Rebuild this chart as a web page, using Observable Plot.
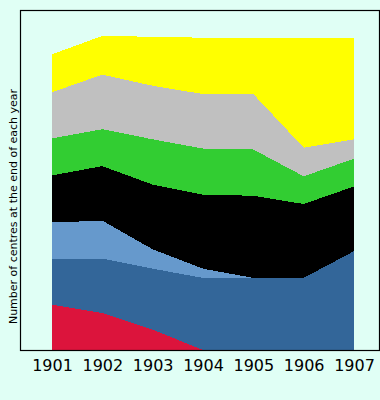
<!DOCTYPE html>
<html>
<head>
<meta charset="utf-8">
<script src="https://cdn.jsdelivr.net/npm/d3@7"></script>
<script src="https://cdn.jsdelivr.net/npm/@observablehq/plot@0.6"></script>
<style>
  html, body { margin: 0; padding: 0; background: #e0fff5; }
</style>
</head>
<body>
<div id="chart"></div>
<script>
const years = [1901, 1902, 1903, 1904, 1905, 1906, 1907];
const seriesNames = ["Series 1", "Series 2", "Series 3", "Series 4", "Series 5", "Series 6", "Series 7"];
const seriesColors = ["#dc143c", "#336699", "#6699cc", "#000000", "#32cd32", "#c0c0c0", "#ffff00"];
const series1 = [4.9, 4.0, 2.2, 0, 0, 0, 0];
const series2 = [4.9, 5.9, 6.6, 7.8, 7.8, 7.8, 10.7];
const series3 = [4.0, 4.1, 2.1, 1.0, 0, 0, 0];
const series4 = [5.1, 5.9, 7.0, 8.0, 8.9, 8.0, 7.0];
const series5 = [4.0, 4.0, 4.9, 5.0, 5.0, 3.0, 3.0];
const series6 = [5.0, 5.9, 5.8, 5.9, 6.0, 3.1, 2.1];
const series7 = [4.1, 4.2, 5.3, 6.1, 6.1, 11.9, 11.0];
const yLabel = "Number of centres at the end of each year";

const allSeries = [series1, series2, series3, series4, series5, series6, series7];
const rows = [];
allSeries.forEach((vals, i) => {
  years.forEach((yr, j) => rows.push({year: yr, value: vals[j], series: seriesNames[i]}));
});

const chart = Plot.plot({
  width: 380,
  height: 400,
  marginLeft: 20,
  marginRight: 1,
  marginTop: 10,
  marginBottom: 50,
  style: {background: "#e0fff5", fontFamily: "DejaVu Sans", color: "black"},
  x: {type: "linear", domain: [1901, 1907], insetLeft: 32, insetRight: 25},
  y: {domain: [0, 36.8], axis: null},
  color: {domain: seriesNames, range: seriesColors},
  marks: [
    Plot.areaY(rows, Plot.stackY({x: "year", y: "value", z: "series", fill: "series", order: null, curve: "linear", shapeRendering: "crispEdges"})),
    Plot.frame({stroke: "black", strokeWidth: 1.2}),
    Plot.axisX({ticks: years, tickFormat: d => String(d), tickSize: 0, tickPadding: 9, fontSize: 16, label: null}),
    Plot.text([yLabel], {frameAnchor: "left", text: d => d, rotate: -90, textAnchor: "middle", lineAnchor: "middle", dx: -7, dy: 26, fontSize: 11, fill: "black"})
  ]
});
document.getElementById("chart").appendChild(chart);
</script>
</body>
</html>
